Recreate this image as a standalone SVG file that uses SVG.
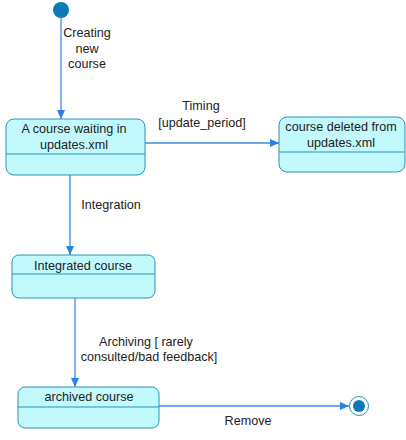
<svg xmlns="http://www.w3.org/2000/svg" width="406" height="440" viewBox="0 0 406 440">
<style>
.st{fill:#c2f9fd;stroke:#2a93b8;stroke-width:1}
.dv{stroke:#2a93b8;stroke-width:1}
.t{font-family:"Liberation Sans",Arial,sans-serif;font-size:12.6px;fill:#222;text-anchor:middle}
.c{stroke:#3a8be6;stroke-width:1.3;fill:none}
</style>
<defs>
<marker id="ah" markerWidth="10" markerHeight="8" refX="9" refY="4" orient="auto" markerUnits="userSpaceOnUse">
<path d="M0,0 L9,4 L0,8 Z" fill="#2a7fe8"/>
</marker>
</defs>
<rect width="406" height="440" fill="#fff"/>
<g id="connectors">
<line class="c" x1="61" y1="18" x2="61" y2="119" marker-end="url(#ah)"/>
<text class="t" x="87" y="37">Creating</text>
<text class="t" x="87" y="53">new</text>
<text class="t" x="87" y="68">course</text>
<line class="c" x1="145" y1="143" x2="279" y2="143" marker-end="url(#ah)"/>
<text class="t" x="201" y="110">Timing</text>
<text class="t" x="202" y="127">[update_period]</text>
<line class="c" x1="70" y1="175" x2="70" y2="255" marker-end="url(#ah)"/>
<text class="t" x="111" y="209">Integration</text>
<line class="c" x1="75" y1="298" x2="75" y2="387" marker-end="url(#ah)"/>
<text class="t" x="146" y="346">Archiving [ rarely</text>
<text class="t" x="149" y="361">consulted/bad feedback]</text>
<line class="c" x1="159" y1="406" x2="349" y2="406" marker-end="url(#ah)"/>
<text class="t" x="248" y="425">Remove</text>
</g>
<g id="initial">
<circle cx="61" cy="10" r="8" fill="#0a7bb8"/>
</g>
<g id="waiting">
<rect class="st" x="6" y="119" width="139" height="56" rx="8"/>
<line class="dv" x1="6" y1="154" x2="145" y2="154"/>
<text class="t" x="74" y="133">A course waiting in</text>
<text class="t" x="74" y="149">updates.xml</text>
</g>
<g id="deleted">
<rect class="st" x="279" y="117" width="126" height="55" rx="8"/>
<line class="dv" x1="279" y1="152" x2="405" y2="152"/>
<text class="t" x="341" y="131">course deleted from</text>
<text class="t" x="341" y="147">updates.xml</text>
</g>
<g id="integrated">
<rect class="st" x="12" y="255" width="143" height="43" rx="7"/>
<line class="dv" x1="12" y1="274" x2="155" y2="274"/>
<text class="t" x="83" y="270">Integrated course</text>
</g>
<g id="archived">
<rect class="st" x="18" y="387" width="141" height="41" rx="7"/>
<line class="dv" x1="18" y1="407" x2="159" y2="407"/>
<text class="t" x="89" y="401">archived course</text>
</g>
<g id="final">
<circle cx="359" cy="406" r="9.5" fill="#fff" stroke="#2a93b8" stroke-width="1"/>
<circle cx="359" cy="406" r="6" fill="#0a7bb8"/>
</g>
</svg>
